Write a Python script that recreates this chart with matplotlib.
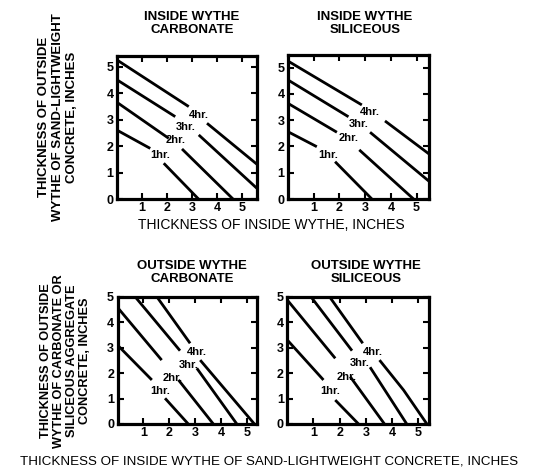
import matplotlib
matplotlib.use("Agg")
import matplotlib.pyplot as plt

plt.rcParams['font.family'] = ['Liberation Sans', 'DejaVu Sans']

hours = ["1hr.", "2hr.", "3hr.", "4hr."]

# Each curve: two segments (before and after the label gap), x and y lists
# Panel A: inside wythe carbonate (outside sand-lightweight)
a_seg1_x = [[0.0, 1.33], [0.0, 2.07], [0.0, 2.33], [0.0, 2.87]]
a_seg1_y = [[2.60, 1.91], [3.65, 2.29], [4.50, 3.11], [5.25, 3.49]]
a_seg2_x = [[1.87, 3.26], [2.60, 4.64], [3.27, 5.60], [3.60, 5.60]]
a_seg2_y = [[1.35, 0.0], [1.89, 0.0], [2.42, 0.40], [2.86, 1.31]]
a_lab_x = [1.73, 2.33, 2.73, 3.27]
a_lab_y = [1.66, 2.23, 2.73, 3.17]

# Panel B: inside wythe siliceous
b_seg1_x = [[0.0, 1.12], [0.0, 1.90], [0.0, 2.35], [0.0, 2.87]]
b_seg1_y = [[2.56, 1.99], [3.64, 2.54], [4.53, 3.13], [5.25, 3.58]]
b_seg2_x = [[1.83, 3.26], [2.77, 4.88], [3.19, 5.50], [3.77, 5.50]]
b_seg2_y = [[1.42, 0.0], [1.87, 0.0], [2.54, 0.66], [2.97, 1.70]]
b_lab_x = [1.57, 2.35, 2.74, 3.19]
b_lab_y = [1.67, 2.31, 2.84, 3.32]

# Panel C: outside wythe carbonate (inside sand-lightweight)
c_seg1_x = [[0.0, 1.33], [0.0, 1.71], [0.68, 2.42], [1.52, 2.81]]
c_seg1_y = [[3.10, 1.73], [4.58, 2.51], [5.0, 2.88], [5.0, 3.17]]
c_seg2_x = [[1.84, 2.74], [2.36, 3.71], [3.07, 4.62], [3.20, 5.30]]
c_seg2_y = [[1.01, 0.0], [1.73, 0.0], [2.19, 0.0], [2.51, 0.0]]
c_lab_x = [1.65, 2.14, 2.74, 3.07]
c_lab_y = [1.30, 1.82, 2.32, 2.84]

# Panel D: outside wythe siliceous
d_seg1_x = [[0.0, 1.38], [0.0, 1.83], [0.90, 2.47], [1.61, 2.88]]
d_seg1_y = [[3.30, 1.73], [4.87, 2.58], [5.0, 2.88], [5.0, 3.17]]
d_seg2_x = [[1.83, 2.72], [2.40, 3.71], [3.16, 4.56], [3.52, 4.44, 5.33]]
d_seg2_y = [[0.94, 0.0], [1.86, 0.0], [2.23, 0.0], [2.51, 1.33, 0.0]]
d_lab_x = [1.64, 2.28, 2.78, 3.27]
d_lab_y = [1.30, 1.83, 2.38, 2.84]

ticks = [1, 2, 3, 4, 5]
yticks = [0, 1, 2, 3, 4, 5]

W, H = 540, 472
fig = plt.figure(figsize=(5.4, 4.72), dpi=100)

def px_rect(l, t, r, b):
    return [l / W, 1 - b / H, (r - l) / W, (b - t) / H]

panels = [
    (px_rect(117, 56, 257, 199), (0, 5.6), (0, 5.4),
     a_seg1_x, a_seg1_y, a_seg2_x, a_seg2_y, a_lab_x, a_lab_y,
     "INSIDE WYTHE\nCARBONATE", 192, 23.5),
    (px_rect(288, 55, 429.5, 199), (0, 5.5), (0, 5.48),
     b_seg1_x, b_seg1_y, b_seg2_x, b_seg2_y, b_lab_x, b_lab_y,
     "INSIDE WYTHE\nSILICEOUS", 365, 23.5),
    (px_rect(117.5, 296.7, 257, 424), (0, 5.4), (0, 5.0),
     c_seg1_x, c_seg1_y, c_seg2_x, c_seg2_y, c_lab_x, c_lab_y,
     "OUTSIDE WYTHE\nCARBONATE", 192, 272.5),
    (px_rect(287.3, 296.7, 428.5, 424), (0, 5.39), (0, 5.0),
     d_seg1_x, d_seg1_y, d_seg2_x, d_seg2_y, d_lab_x, d_lab_y,
     "OUTSIDE WYTHE\nSILICEOUS", 366, 272.5),
]

for (rect, xl, yl, s1x, s1y, s2x, s2y, lx, ly, title, tx, ty) in panels:
    ax = fig.add_axes(rect)
    for i in range(4):
        ax.plot(s1x[i], s1y[i], color='black', lw=2.0, solid_capstyle='butt')
        ax.plot(s2x[i], s2y[i], color='black', lw=2.0, solid_capstyle='butt')
        ax.text(lx[i], ly[i], hours[i], fontsize=8, fontweight='bold',
                ha='center', va='center')
    ax.set_xlim(*xl)
    ax.set_ylim(*yl)
    ax.set_xticks(ticks)
    ax.set_yticks(yticks)
    ax.set_xticklabels([str(t) for t in ticks], fontweight='bold', fontsize=9)
    ax.set_yticklabels([str(t) for t in yticks], fontweight='bold', fontsize=9)
    ax.tick_params(direction='in', length=4, width=1.5, top=True, right=True,
                   pad=2.5)
    for sp in ax.spines.values():
        sp.set_linewidth(2.3)
    fig.text(tx / W, 1 - ty / H, title, ha='center', va='center',
             fontsize=9.5, fontweight='bold', linespacing=1.2)

fig.text(58 / W, 1 - 117 / H,
         "THICKNESS OF OUTSIDE\nWYTHE OF SAND-LIGHTWEIGHT\nCONCRETE, INCHES",
         rotation=90, ha='center', va='center', multialignment='center',
         fontsize=9.5, fontweight='bold', linespacing=1.2)
fig.text(65.5 / W, 1 - 361 / H,
         "THICKNESS OF OUTSIDE\nWYTHE OF CARBONATE OR\nSILICEOUS AGGREGATE\nCONCRETE, INCHES",
         rotation=90, ha='center', va='center', multialignment='center',
         fontsize=9.2, fontweight='bold', linespacing=1.12)
fig.text(271 / W, 1 - 225 / H, "THICKNESS OF INSIDE WYTHE, INCHES",
         ha='center', va='center', fontsize=10)
fig.text(269 / W, 1 - 462 / H,
         "THICKNESS OF INSIDE WYTHE OF SAND-LIGHTWEIGHT CONCRETE, INCHES",
         ha='center', va='center', fontsize=9.6)

fig.savefig("out.png", dpi=100)
